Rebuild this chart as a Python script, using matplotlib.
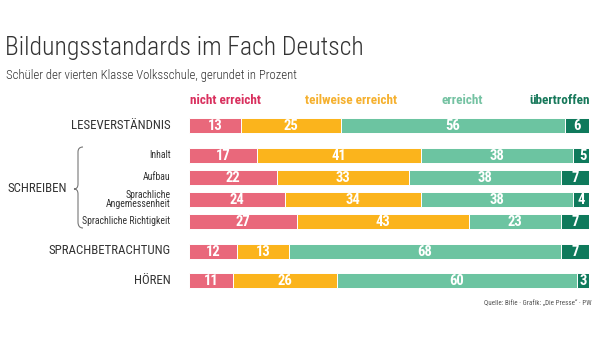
import matplotlib
matplotlib.use("Agg")
import matplotlib.pyplot as plt
from matplotlib.path import Path
from matplotlib.patches import PathPatch
import numpy as np

plt.rcParams['font.family'] = ['Roboto Condensed', 'DejaVu Sans']

# data
rows = ["LESEVERSTÄNDNIS", "Inhalt", "Aufbau", "Sprachliche\nAngemessenheit",
        "Sprachliche Richtigkeit", "SPRACHBETRACHTUNG", "HÖREN"]
is_main = [True, False, False, False, False, True, True]
categories = ["nicht erreicht", "teilweise erreicht", "erreicht", "übertroffen"]
nicht_erreicht = [13, 17, 22, 24, 27, 12, 11]
teilweise = [25, 41, 33, 34, 43, 13, 26]
erreicht = [56, 38, 38, 38, 23, 68, 60]
uebertroffen = [6, 5, 7, 4, 7, 7, 3]

bar_colors = ["#e9687b", "#fbb41c", "#6cc4a1", "#0f7a5c"]
legend_colors = ["#d9305e", "#f5b02e", "#74c2a2", "#16785a"]

# layout (pixel rows)
y_pos = [125.5, 155, 177, 199.5, 221, 251, 280.5]
bar_h = 15

fig = plt.figure(figsize=(6, 3.6), dpi=100)
bg = fig.add_axes([0, 0, 1, 1])
bg.set_xlim(0, 600)
bg.set_ylim(360, 0)
bg.axis("off")

ax = fig.add_axes([189 / 600, 0, 400 / 600, 1])
ax.set_xlim(0, 100)
ax.set_ylim(360, 0)
ax.axis("off")

series = [nicht_erreicht, teilweise, erreicht, uebertroffen]
left = np.zeros(len(rows))
for vals, col in zip(series, bar_colors):
    vals = np.array(vals)
    ax.barh(y_pos, vals, left=left, height=bar_h, color=col,
            edgecolor="white", linewidth=0.7)
    for y, l, v in zip(y_pos, left, vals):
        ax.text(l + v / 2, y + 0.5, str(v), ha="center", va="center",
                color="white", fontsize=10.5, fontweight="bold")
    left += vals

# row labels
for y, lab, main in zip(y_pos, rows, is_main):
    ax.text(-4.6, y, lab, ha="right", va="center",
            fontsize=9.3 if main else 7, color="#333333",
            linespacing=0.95, clip_on=False)

# legend headers
leg_x = [226, 351, 462, 560]
for x, lab, col in zip(leg_x, categories, legend_colors):
    bg.text(x, 100, lab, ha="center", va="center", color=col,
            fontsize=9.5, fontweight="bold")

# title
bg.text(5, 48, "Bildungsstandards im Fach Deutsch", ha="left", va="center",
        fontsize=18.5, fontweight="light", color="#333333")
bg.text(6, 75, "Schüler der vierten Klasse Volksschule, gerundet in Prozent",
        ha="left", va="center", fontsize=9.2, fontweight="light",
        color="#333333")

# SCHREIBEN with brace
bg.text(7, 189, "SCHREIBEN", ha="left", va="center", fontsize=9.3,
        color="#333333")
verts = [(83, 147), (78, 147), (78, 152), (78, 156),
         (78, 184), (78, 189), (74, 189),
         (78, 189), (78, 194), (78, 222),
         (78, 228), (83, 228)]
codes = [Path.MOVETO, Path.CURVE3, Path.CURVE3, Path.LINETO,
         Path.LINETO, Path.CURVE3, Path.CURVE3,
         Path.CURVE3, Path.CURVE3, Path.LINETO,
         Path.CURVE3, Path.CURVE3]
bg.add_patch(PathPatch(Path(verts, codes), fill=False, edgecolor="#777777",
                       linewidth=0.8))

# source
bg.text(592, 304, "Quelle: Bifie · Grafik: „Die Presse“ · PW", ha="right",
        va="center", fontsize=5, color="#555555")

fig.savefig("out.png", dpi=100, facecolor="white")
